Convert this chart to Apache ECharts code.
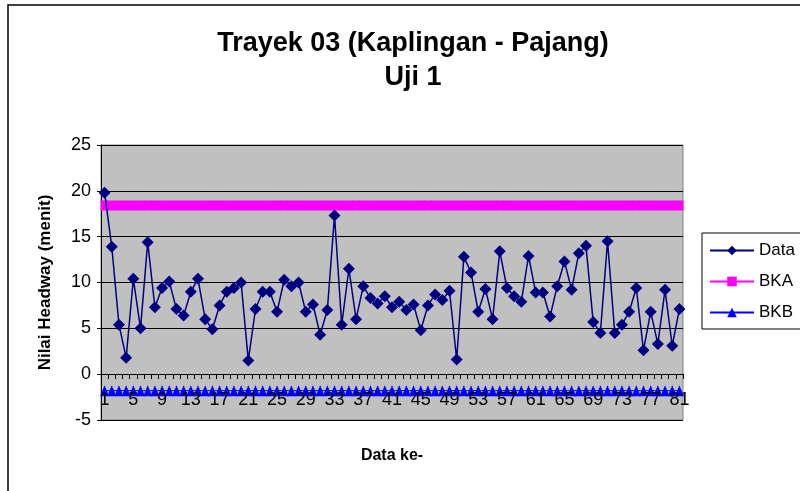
<!DOCTYPE html>
<html lang="id">
<head>
    <meta charset="UTF-8">
    <title>Trayek 03 Uji 1</title>
    <script src="https://cdn.jsdelivr.net/npm/echarts@6/dist/echarts.min.js"></script>
    <style>
        html, body { margin: 0; padding: 0; background: #fff; }
    </style>
</head>
<body>

<div id="main" style="width: 800px;height:491px;"></div>

<script type="text/javascript">
    // nilai headway per data ke-
    var dataKe = [];
    for (var i = 1; i <= 81; i++) dataKe.push(String(i));

    var headway = [
        19.8, 13.9, 5.4, 1.8, 10.4, 5.0, 14.4, 7.3, 9.4, 10.1,
        7.1, 6.4, 9.0, 10.4, 6.0, 4.9, 7.5, 9.0, 9.4, 10.0,
        1.5, 7.1, 9.0, 9.0, 6.8, 10.3, 9.6, 10.0, 6.8, 7.6,
        4.3, 7.0, 17.3, 5.4, 11.5, 6.0, 9.6, 8.3, 7.7, 8.5,
        7.3, 7.9, 7.0, 7.6, 4.8, 7.5, 8.7, 8.1, 9.1, 1.6,
        12.8, 11.1, 6.8, 9.3, 6.0, 13.4, 9.4, 8.5, 7.9, 12.9,
        8.9, 8.9, 6.3, 9.6, 12.3, 9.2, 13.2, 14.0, 5.7, 4.5,
        14.5, 4.5, 5.4, 6.8, 9.4, 2.6, 6.8, 3.3, 9.2, 3.1,
        7.1
    ];

    // batas kontrol atas / bawah
    var bka = [];
    var bkb = [];
    for (var j = 0; j < dataKe.length; j++) {
        bka.push(18.4);
        bkb.push(-1.8);
    }

    var yTicks = [-5, 0, 5, 10, 15, 20, 25];

    var myChart = echarts.init(document.getElementById('main'));

    var option = {
        backgroundColor: '#ffffff',
        animation: false,
        title: {
            text: 'Trayek 03 (Kaplingan - Pajang)\nUji 1',
            left: 408,
            textAlign: 'center',
            top: 22,
            textStyle: {
                fontFamily: 'Liberation Sans',
                fontWeight: 'bold',
                fontSize: 27,
                lineHeight: 34,
                color: '#000'
            }
        },
        graphic: [{
            type: 'rect',
            shape: { x: 8, y: 5, width: 820, height: 520 },
            style: { fill: 'none', stroke: '#000', lineWidth: 1.5 },
            silent: true,
            z: 0
        }],
        legend: {
            orient: 'vertical',
            left: 702,
            top: 233,
            borderColor: '#000',
            borderWidth: 1,
            padding: [9, 40, 8, 7],
            itemGap: 14,
            itemWidth: 44,
            itemHeight: 12,
            textStyle: { fontFamily: 'Liberation Sans', fontSize: 17, color: '#000' },
            data: ['Data', 'BKA', 'BKB']
        },
        grid: {
            left: 101,
            top: 145,
            width: 582,
            height: 275,
            show: true,
            backgroundColor: '#C0C0C0',
            borderColor: '#808080',
            borderWidth: 1
        },
        xAxis: {
            type: 'category',
            data: dataKe,
            boundaryGap: true,
            offset: -46,   // garis sumbu di nilai 0
            z: 5,
            name: 'Data ke-',
            nameLocation: 'middle',
            nameGap: 74,
            nameTextStyle: { fontFamily: 'Liberation Sans', fontWeight: 'bold', fontSize: 16, color: '#000' },
            axisLine: { show: true, onZero: false, lineStyle: { color: '#000', width: 1 } },
            axisTick: { show: true, inside: false, interval: 0, length: 5, lineStyle: { color: '#000', width: 1 } },
            axisLabel: {
                interval: 3,
                margin: 17,
                fontFamily: 'Liberation Sans',
                fontSize: 18,
                color: '#000'
            },
            splitLine: { show: false }
        },
        yAxis: {
            type: 'value',
            min: yTicks[0],
            max: yTicks[yTicks.length - 1],
            interval: 5,
            name: 'Nilai Headway (menit)',
            nameLocation: 'middle',
            nameGap: 47,
            nameTextStyle: { fontFamily: 'Liberation Sans', fontWeight: 'bold', fontSize: 17, color: '#000' },
            axisLine: { show: true, onZero: false, lineStyle: { color: '#000', width: 1 } },
            axisTick: { show: true, length: 4, lineStyle: { color: '#000' } },
            axisLabel: {
                margin: 10,
                fontFamily: 'Liberation Sans',
                fontSize: 18,
                color: '#000'
            },
            splitLine: { show: true, lineStyle: { color: '#000', width: 1 } }
        },
        series: [
            {
                name: 'Data',
                type: 'line',
                data: headway,
                symbol: 'diamond',
                symbolSize: 12,
                showAllSymbol: true,
                itemStyle: { color: '#000080' },
                lineStyle: { color: '#000080', width: 1.5 },
                z: 4
            },
            {
                name: 'BKA',
                type: 'line',
                data: bka,
                symbol: 'rect',
                symbolSize: [8, 10],
                showAllSymbol: true,
                itemStyle: { color: '#FF00FF' },
                lineStyle: { color: '#FF00FF', width: 1 },
                z: 3
            },
            {
                name: 'BKB',
                type: 'line',
                data: bkb,
                symbol: 'triangle',
                symbolSize: [9, 11],
                showAllSymbol: true,
                itemStyle: { color: '#0000FF' },
                lineStyle: { color: '#0000FF', width: 1 },
                z: 3
            }
        ]
    };

    myChart.setOption(option);
</script>
</body>
</html>
